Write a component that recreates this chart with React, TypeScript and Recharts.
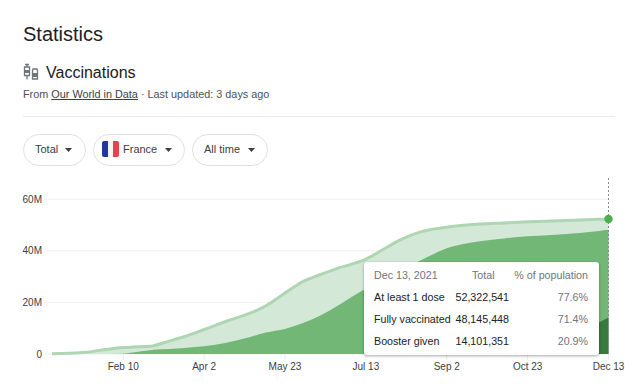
import React from 'react';
import { AreaChart, Area, XAxis, YAxis, CartesianGrid, Tooltip } from 'recharts';

// days since Dec 27, 2020
const days = [0, 10, 22, 30, 45, 51, 62, 64, 74, 79, 85, 96, 110, 125, 135, 147, 158, 169, 181, 190, 198, 207, 220, 233, 249, 263, 270, 285, 300, 320, 333, 345, 351];
// millions of people
const firstDose = [0.1, 0.25, 0.7, 1.4, 2.5, 2.7, 3.0, 3.2, 5.0, 5.9, 7.0, 9.5, 12.7, 15.8, 18.7, 23.6, 28.0, 30.7, 33.4, 35.0, 36.8, 39.8, 44.3, 47.4, 49.1, 50.1, 50.4, 50.8, 51.2, 51.6, 51.9, 52.2, 52.322541];
const fullyVaccinated = [0, 0, 0, 0, 0.1, 0.6, 1.5, 1.6, 1.9, 2.1, 2.4, 3.0, 4.4, 6.6, 8.3, 9.7, 11.9, 14.8, 19.0, 22.5, 25.4, 28.5, 32.5, 36.4, 41.0, 43.0, 43.7, 44.8, 45.6, 46.3, 46.9, 47.7, 48.145448];
const boosterGiven = [0, 0, 0, 0, 0, 0, 0, 0, 0, 0, 0, 0, 0, 0, 0, 0, 0, 0, 0, 0, 0, 0, 0, 0, 0, 0.4, 0.8, 1.8, 3.0, 6.0, 9.0, 12.2, 14.101351];

const tickDays = [45, 96, 147, 198, 249, 300, 351];
const tickLabels = ['Feb 10', 'Apr 2', 'May 23', 'Jul 13', 'Sep 2', 'Oct 23', 'Dec 13'];
const valueTicks = [0, 20, 40, 60];

const rowNames = ['At least 1 dose', 'Fully vaccinated', 'Booster given'];
const rowTotals = ['52,322,541', '48,145,448', '14,101,351'];
const rowPercents = ['77.6%', '71.4%', '20.9%'];

const chartData = days.map((day, i) => ({
  day,
  firstDose: firstDose[i],
  fully: fullyVaccinated[i],
  booster: boosterGiven[i],
}));

const font = 'Liberation Sans, Arial, sans-serif';

function Abs({ x, y, style, children }: any) {
  return <div style={{ position: 'absolute', left: x, top: y, whiteSpace: 'nowrap', ...style }}>{children}</div>;
}

function Caret({ x, y }: any) {
  return (
    <svg width={7} height={4} style={{ position: 'absolute', left: x, top: y }}>
      <path d="M0 0 L7 0 L3.5 4 Z" fill="#3c4043" />
    </svg>
  );
}

function Pill({ x, width, label, textX, caretX, children }: any) {
  return (
    <>
      <div style={{ position: 'absolute', left: x, top: 134, width: width - 2, height: 30, border: '1px solid #dfe1e5', borderRadius: 16 }} />
      {children}
      <Abs x={textX} y={143} style={{ fontSize: 11, lineHeight: '13px', color: '#3c4043' }}>{label}</Abs>
      <Caret x={caretX} y={148} />
    </>
  );
}

function VaccineTooltip() {
  const cell = { fontSize: 10.7, lineHeight: '14px' };
  return (
    <div style={{ position: 'relative', width: 235, height: 93, background: '#fff', borderRadius: 3, boxShadow: '0 1px 3px rgba(0,0,0,0.35)', fontFamily: font }}>
      <Abs x={10} y={6} style={{ ...cell, color: '#70757a' }}>Dec 13, 2021</Abs>
      <Abs x={108} y={6} style={{ ...cell, color: '#70757a' }}>Total</Abs>
      <Abs x={140} y={6} style={{ ...cell, color: '#70757a', width: 84, textAlign: 'right' }}>% of population</Abs>
      {rowNames.map((name, i) => (
        <React.Fragment key={name}>
          <Abs x={10} y={28 + i * 22} style={{ ...cell, color: '#202124' }}>{name}</Abs>
          <Abs x={85} y={28 + i * 22} style={{ ...cell, color: '#202124', width: 60, textAlign: 'right' }}>{rowTotals[i]}</Abs>
          <Abs x={174} y={28 + i * 22} style={{ ...cell, color: '#70757a', width: 50, textAlign: 'right' }}>{rowPercents[i]}</Abs>
        </React.Fragment>
      ))}
    </div>
  );
}

export default function App() {
  return (
    <div style={{ position: 'absolute', left: 0, top: 0, width: 640, height: 388, overflow: 'hidden', background: '#fff', fontFamily: font }}>
      <AreaChart
        width={640}
        height={388}
        data={chartData}
        margin={{ top: 178, right: 31.5, bottom: 0, left: 0 }}
        style={{ position: 'absolute', left: 0, top: 0 }}
      >
        <CartesianGrid vertical={false} stroke="#f1f1f1" horizontalValues={valueTicks} />
        <XAxis
          dataKey="day"
          type="number"
          domain={[-5, 351]}
          ticks={tickDays}
          height={34}
          interval={0}
          tickFormatter={(d: number) => tickLabels[tickDays.indexOf(d)]}
          axisLine={false}
          tickLine={{ stroke: '#ebebeb' }}
          tickSize={6}
          tickMargin={3}
          tick={{ fontSize: 10, fill: '#3c4043', fontFamily: font }}
        />
        <YAxis
          width={44}
          domain={[0, 68.2]}
          ticks={valueTicks}
          tickFormatter={(v: number) => (v === 0 ? '0' : `${v}M`)}
          axisLine={false}
          tickLine={false}
          tickMargin={2}
          tickSize={0}
          tick={{ fontSize: 10, fill: '#3c4043', fontFamily: font }}
        />
        <Area
          dataKey="firstDose"
          type="monotone"
          fill="#d3e8d6"
          fillOpacity={1}
          stroke="#aed6b2"
          strokeWidth={3}
          isAnimationActive={false}
          activeDot={{ r: 3.2, fill: '#4caf50', stroke: '#4caf50' }}
        />
        <Area
          dataKey="fully"
          type="monotone"
          fill="#72b776"
          fillOpacity={1}
          stroke="none"
          isAnimationActive={false}
          activeDot={false}
        />
        <Area
          dataKey="booster"
          type="monotone"
          fill="#38793d"
          fillOpacity={1}
          stroke="none"
          isAnimationActive={false}
          activeDot={false}
        />
        <Tooltip
          active
          defaultIndex={days.length - 1}
          content={<VaccineTooltip />}
          position={{ x: 364, y: 262 }}
          cursor={{ stroke: '#8a8a8a', strokeDasharray: '2 2', strokeWidth: 1 }}
          isAnimationActive={false}
          wrapperStyle={{ outline: 'none' }}
        />
      </AreaChart>

      <Abs x={23} y={22} style={{ fontSize: 20, lineHeight: '24px', color: '#202124' }}>Statistics</Abs>

      <svg width={18} height={18} style={{ position: 'absolute', left: 23, top: 63 }} fill="none" stroke="#70757a" strokeWidth={1.3}>
        <path d="M2 1.5 H6 M4 1.5 V4 M1.5 4 H6.5 V12.5 H1.5 Z M4 12.5 V16.5" />
        <path d="M9.5 6 H14.5 M10 6 L9.5 8 V16 H14.5 V8 L14 6" />
        <rect x={10} y={10} width={4} height={4} fill="#70757a" stroke="none" />
        <rect x={2} y={7} width={4} height={3} fill="#70757a" stroke="none" />
      </svg>
      <Abs x={46} y={63} style={{ fontSize: 16, lineHeight: '19px', color: '#202124' }}>Vaccinations</Abs>

      <Abs x={23} y={88} style={{ fontSize: 10.85, lineHeight: '13px', color: '#4d5156' }}>
        From <span style={{ textDecoration: 'underline', color: '#3c4043' }}>Our World in Data</span> · Last updated: 3 days ago
      </Abs>

      <div style={{ position: 'absolute', left: 23, top: 116, width: 592, height: 1, background: '#ebebeb' }} />

      <Pill x={23} width={63} label="Total" textX={35} caretX={65} />
      <Pill x={93} width={92} label="France" textX={123} caretX={165}>
        <div style={{ position: 'absolute', left: 102, top: 141, width: 17, height: 16, borderRadius: 2, overflow: 'hidden', display: 'flex' }}>
          <div style={{ flex: 1, background: '#1f3a9c' }} />
          <div style={{ flex: 1, background: '#f4f4f4' }} />
          <div style={{ flex: 1, background: '#e5424b' }} />
        </div>
      </Pill>
      <Pill x={192} width={76} label="All time" textX={204} caretX={248} />
    </div>
  );
}
